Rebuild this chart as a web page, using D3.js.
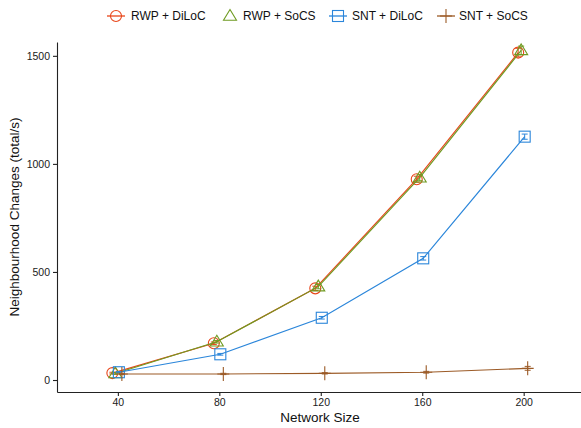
<!DOCTYPE html>
<html><head><meta charset="utf-8">
<script src="https://cdn.jsdelivr.net/npm/d3@7"></script>
<style>body{margin:0;background:#fff}svg{display:block}text{font-family:"Liberation Sans",Arial,sans-serif}</style>
</head><body>
<svg id="c" width="581" height="428"></svg>
<script>
const networkSizes = [40, 80, 120, 160, 200];
const seriesNames = ["RWP + DiLoC", "RWP + SoCS", "SNT + DiLoC", "SNT + SoCS"];
const rwpDiloc = [32, 170, 424, 929, 1515];
const rwpSocs  = [30, 177, 432, 936, 1525];
const sntDiloc = [36, 119, 288, 563, 1126];
const sntSocs  = [28, 28, 31, 36, 54];
const rwpDilocErr = [4, 6, 10, 14, 20];
const rwpSocsErr  = [4, 6, 10, 14, 20];
const sntDilocErr = [3, 4, 6, 8, 12];
const sntSocsErr  = [3, 3, 3, 4, 9];
const yTicks = [0, 500, 1000, 1500];
const xTicks = [40, 80, 120, 160, 200];

const colors = ["#E8461A", "#6F9B22", "#2B86DA", "#9C5B27"];
const shapes = ["circle", "triangle", "square", "plus"];
const dodgePx = [-5.5, -2.5, 1, 4];
const values = [rwpDiloc, rwpSocs, sntDiloc, sntSocs];
const errs = [rwpDilocErr, rwpSocsErr, sntDilocErr, sntSocsErr];

const svg = d3.select("#c");
const mLeft = 57, mRight = 581, mTop = 42, mBottom = 392;
const x = d3.scaleLinear().domain([16, 222.6]).range([mLeft, mRight]);
const y = d3.scaleLinear().domain([-55.5, 1564]).range([mBottom, mTop]);

function marker(g, shape, cx, cy, color) {
  if (shape === "circle") {
    g.append("circle").attr("cx", cx).attr("cy", cy).attr("r", 5.5)
      .attr("fill", "none").attr("stroke", color).attr("stroke-width", 1.1);
  } else if (shape === "triangle") {
    const s = 6.5;
    g.append("path").attr("d", `M${cx},${cy - s}L${cx + s * 1.0},${cy + s * 0.65}L${cx - s * 1.0},${cy + s * 0.65}Z`)
      .attr("fill", "none").attr("stroke", color).attr("stroke-width", 1.1);
  } else if (shape === "square") {
    g.append("rect").attr("x", cx - 5.5).attr("y", cy - 5.5).attr("width", 11).attr("height", 11)
      .attr("fill", "none").attr("stroke", color).attr("stroke-width", 1.1);
  } else {
    g.append("path").attr("d", `M${cx - 6},${cy}H${cx + 6}M${cx},${cy - 7}V${cy + 7}`)
      .attr("fill", "none").attr("stroke", color).attr("stroke-width", 1.1);
  }
}

// axes
const xAxis = svg.append("g").attr("transform", `translate(0,${mBottom})`)
  .call(d3.axisBottom(x).tickValues(xTicks).tickFormat(d3.format("d")).tickSize(4).tickPadding(3).tickSizeOuter(0));
const yAxis = svg.append("g").attr("transform", `translate(${mLeft},0)`)
  .call(d3.axisLeft(y).tickValues(yTicks).tickFormat(d3.format("d")).tickSize(4).tickPadding(3).tickSizeOuter(0));
[xAxis, yAxis].forEach(a => {
  a.attr("font-size", 10.5).attr("font-family", '"Liberation Sans",Arial,sans-serif');
  a.select(".domain").attr("stroke", "#222").attr("stroke-width", 1.1);
  a.selectAll(".tick line").attr("stroke", "#222").attr("stroke-width", 1.1);
  a.selectAll(".tick text").attr("fill", "#1a1a1a");
});

svg.append("text").attr("x", 320).attr("y", 422).attr("text-anchor", "middle")
  .attr("font-size", 13.5).attr("fill", "#111").text("Network Size");
svg.append("text").attr("transform", `translate(19,217) rotate(-90)`).attr("text-anchor", "middle")
  .attr("font-size", 13.5).attr("fill", "#111").text("Neighbourhood Changes (total/s)");

// series
const line = d3.line();
values.forEach((vals, i) => {
  const g = svg.append("g");
  const pts = networkSizes.map((n, j) => [x(n) + dodgePx[i], y(vals[j])]);
  g.append("path").attr("d", line(pts)).attr("fill", "none")
    .attr("stroke", colors[i]).attr("stroke-width", 1.15);
  networkSizes.forEach((n, j) => {
    const cx = x(n) + dodgePx[i];
    const e = errs[i][j];
    g.append("path").attr("d", `M${cx - 3},${y(vals[j] + e)}H${cx + 3}M${cx},${y(vals[j] + e)}V${y(vals[j] - e)}M${cx - 3},${y(vals[j] - e)}H${cx + 3}`)
      .attr("fill", "none").attr("stroke", colors[i]).attr("stroke-width", 1);
    marker(g, shapes[i], cx, pts[j][1], colors[i]);
  });
});

// legend
const legendKeyX = [116, 230, 338, 446];
const legendTextX = [131, 243, 352, 459];
const ly = 16;
seriesNames.forEach((name, i) => {
  const g = svg.append("g");
  if (shapes[i] !== "triangle") {
    g.append("line").attr("x1", legendKeyX[i] - 9).attr("x2", legendKeyX[i] + 9)
      .attr("y1", ly).attr("y2", ly).attr("stroke", colors[i]).attr("stroke-width", 1.3);
  }
  marker(g, shapes[i], legendKeyX[i], ly, colors[i]);
  g.append("text").attr("x", legendTextX[i]).attr("y", ly + 4.3).attr("font-size", 12)
    .attr("fill", "#111").text(name);
});
</script>
</body></html>
